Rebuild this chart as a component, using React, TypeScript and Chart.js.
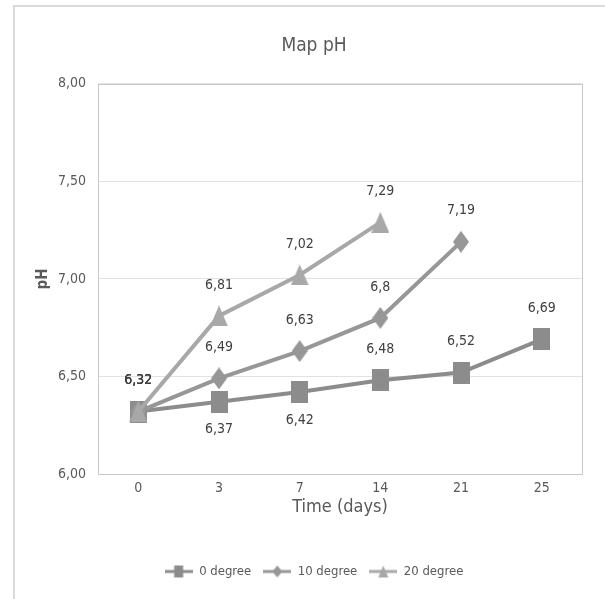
import React, { useEffect, useRef } from "react";
import { Chart, registerables } from "chart.js";

Chart.register(...registerables);

const categories = ["0", "3", "7", "14", "21", "25"];
const seriesNames = ["0 degree", "10 degree", "20 degree"];
const series0 = [6.32, 6.37, 6.42, 6.48, 6.52, 6.69];
const series10 = [6.32, 6.49, 6.63, 6.8, 7.19, null];
const series20 = [6.32, 6.81, 7.02, 7.29, null, null];
const yMin = 6;
const yMax = 8;
const yStep = 0.5;

const FONT = "'Liberation Sans Narrow', 'DejaVu Sans Condensed', 'Liberation Sans', sans-serif";
const TEXT = "#595959";

function shape(ctx: CanvasRenderingContext2D, style: string, cx: number, cy: number, w: number, h: number) {
  ctx.beginPath();
  if (style === "rect") {
    ctx.rect(cx - w / 2, cy - h / 2, w, h);
  } else if (style === "rectRot") {
    ctx.moveTo(cx, cy - h / 2);
    ctx.lineTo(cx + w / 2, cy);
    ctx.lineTo(cx, cy + h / 2);
    ctx.lineTo(cx - w / 2, cy);
    ctx.closePath();
  } else {
    ctx.moveTo(cx, cy - h / 2);
    ctx.lineTo(cx + w / 2, cy + h / 2);
    ctx.lineTo(cx - w / 2, cy + h / 2);
    ctx.closePath();
  }
  ctx.fill();
}

function makeMarker(color: string, style: string, w: number, h: number) {
  const c = document.createElement("canvas");
  c.width = w;
  c.height = h;
  const ctx = c.getContext("2d")!;
  ctx.fillStyle = color;
  shape(ctx, style, w / 2, h / 2, w, h);
  return c;
}

function makeIcon(color: string, style: string) {
  const c = document.createElement("canvas");
  c.width = 28;
  c.height = 14;
  const ctx = c.getContext("2d")!;
  ctx.strokeStyle = color;
  ctx.fillStyle = color;
  ctx.lineWidth = 3;
  ctx.beginPath();
  ctx.moveTo(0, 7);
  ctx.lineTo(28, 7);
  ctx.stroke();
  const w = style === "rect" ? 9 : 10;
  shape(ctx, style, 14, 7, w, 12);
  return c;
}

const areaBorder = {
  id: "areaBorder",
  beforeDatasetsDraw(chart: any) {
    const { ctx, chartArea: a } = chart;
    ctx.save();
    ctx.strokeStyle = "#c8c8c8";
    ctx.lineWidth = 1;
    ctx.strokeRect(Math.round(a.left) + 0.5, Math.round(a.top) + 0.5, Math.round(a.right - a.left), Math.round(a.bottom - a.top));
    ctx.restore();
  },
};

const valueLabels = {
  id: "valueLabels",
  afterDatasetsDraw(chart: any, _args: any, opts: any) {
    const ctx = chart.ctx;
    ctx.save();
    ctx.font = `14px ${FONT}`;
    ctx.fillStyle = "#404040";
    ctx.textAlign = "center";
    ctx.textBaseline = "middle";
    chart.data.datasets.forEach((ds: any, di: number) => {
      const meta = chart.getDatasetMeta(di);
      meta.data.forEach((pt: any, i: number) => {
        const v = ds.data[i];
        if (v == null) return;
        const below = (opts.below[di] || []).includes(i);
        ctx.fillText(String(v).replace(".", ","), pt.x, pt.y + (below ? 28 : -31));
      });
    });
    ctx.restore();
  },
};

export default function App() {
  const ref = useRef<HTMLCanvasElement>(null);
  useEffect(() => {
    const colors = ["#8c8c8c", "#979797", "#a8a8a8"];
    const styles = ["rect", "rectRot", "triangle"];
    const sizes = [
      [17, 22],
      [16, 22],
      [18, 21],
    ];
    const all = [series0, series10, series20];
    const chart = new Chart(ref.current!, {
      type: "line",
      data: {
        labels: categories,
        datasets: all.map((d, i) => ({
          label: seriesNames[i],
          data: d,
          borderColor: colors[i],
          backgroundColor: colors[i],
          borderWidth: 4,
          pointStyle: makeMarker(colors[i], styles[i], sizes[i][0], sizes[i][1]),
          markerShape: styles[i],
          pointRadius: 10,
          pointBorderWidth: 0,
          order: 3 - i,
          spanGaps: false,
          yAxisID: "y",
        })),
      },
      plugins: [areaBorder, valueLabels],
      options: {
        responsive: false,
        animation: false,
        layout: { padding: { left: 10, right: 7, top: 20, bottom: 11 } },
        scales: {
          x: {
            type: "category",
            offset: true,
            grid: { display: false, drawTicks: false },
            border: { display: false },
            ticks: { color: TEXT, font: { family: FONT, size: 14, lineHeight: 1.2 }, padding: 6 },
            title: {
              display: true,
              text: "Time (days)",
              color: TEXT,
              font: { family: FONT, size: 18, lineHeight: 1 },
              padding: { top: 0, bottom: 37 },
            },
            afterFit: (s: any) => {
              s.height = 79;
            },
          },
          y: {
            min: yMin,
            max: yMax,
            grid: { color: "#e2e2e2", drawTicks: false },
            border: { display: false },
            ticks: {
              stepSize: yStep,
              color: TEXT,
              font: { family: FONT, size: 14 },
              padding: 12,
              callback: (v: any) => Number(v).toFixed(2).replace(".", ","),
            },
            title: { display: true, text: "pH", color: TEXT, font: { family: FONT, size: 15, weight: "bold" }, padding: { top: 4, bottom: 4 } },
            afterFit: (s: any) => {
              s.width = 68;
            },
          },
          y2: {
            position: "right",
            min: yMin,
            max: yMax,
            grid: { display: false, drawTicks: false },
            border: { display: false },
            ticks: { display: false },
            afterFit: (s: any) => {
              s.width = 16;
            },
          },
        },
        plugins: {
          title: {
            display: true,
            text: "Map pH",
            color: TEXT,
            font: { family: FONT, size: 19, weight: "normal" },
            padding: { top: 15, bottom: 26 },
          },
          legend: {
            position: "bottom",
            labels: {
              usePointStyle: true,
              pointStyleWidth: 28,
              padding: 12,
              color: TEXT,
              font: { family: FONT, size: 13 },
              generateLabels: (ch: any) =>
                ch.data.datasets.map((ds: any, i: number) => ({
                  text: ds.label,
                  pointStyle: makeIcon(ds.borderColor, ds.markerShape),
                  fillStyle: ds.borderColor,
                  strokeStyle: ds.borderColor,
                  lineWidth: 0,
                  hidden: false,
                  datasetIndex: i,
                  fontColor: TEXT,
                })),
            },
          },
          tooltip: { enabled: false },
          valueLabels: { below: [[1, 2], [], []] },
        } as any,
      },
    } as any);
    return () => chart.destroy();
  }, []);
  return (
    <div style={{ position: "fixed", left: 0, top: 0, width: 605, height: 599, background: "#fff" }}>
      <div
        style={{
          position: "absolute",
          left: 13,
          top: 5,
          right: 0,
          bottom: 0,
          borderTop: "2px solid #dadada",
          borderLeft: "2px solid #dadada",
        }}
      />
      <canvas ref={ref} width={585} height={599} style={{ position: "absolute", left: 20, top: 0 }} />
    </div>
  );
}
